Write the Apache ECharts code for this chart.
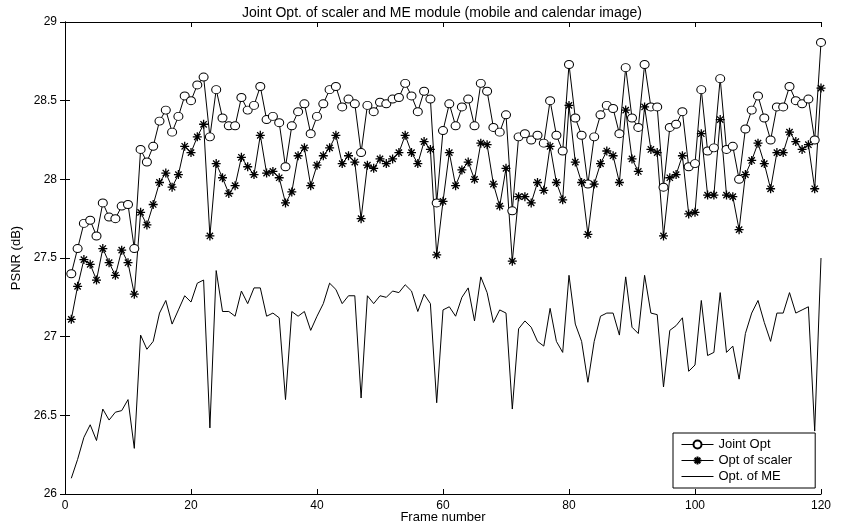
<!DOCTYPE html>
<html>
<head>
<meta charset="utf-8">
<script src="https://cdn.jsdelivr.net/npm/echarts@6/dist/echarts.min.js"></script>
<style>
  html, body { margin: 0; padding: 0; background: #fff; }
  #chart { width: 850px; height: 523px; }
</style>
</head>
<body>
<div id="chart"></div>
<script>
// PSNR per frame (dB), frames 1..120
const jointOpt = [
  27.40, 27.56, 27.72, 27.74, 27.64, 27.85, 27.76, 27.75, 27.83, 27.84,
  27.56, 28.19, 28.11, 28.21, 28.37, 28.44, 28.30, 28.40, 28.53, 28.50,
  28.60, 28.65, 28.27, 28.57, 28.39, 28.34, 28.34, 28.52, 28.44, 28.47,
  28.59, 28.38, 28.40, 28.36, 28.08, 28.34, 28.43, 28.48, 28.29, 28.40,
  28.48, 28.57, 28.59, 28.46, 28.51, 28.48, 28.17, 28.47, 28.43, 28.49,
  28.48, 28.51, 28.52, 28.61, 28.53, 28.43, 28.56, 28.51, 27.85, 28.31,
  28.48, 28.34, 28.46, 28.51, 28.34, 28.61, 28.56, 28.33, 28.30, 28.41,
  27.80, 28.27, 28.29, 28.25, 28.28, 28.23, 28.50, 28.28, 28.18, 28.73,
  28.39, 28.28, 27.97, 28.27, 28.41, 28.47, 28.45, 28.29, 28.71, 28.39,
  28.33, 28.73, 28.46, 28.46, 27.95, 28.33, 28.35, 28.43, 28.08, 28.10,
  28.57, 28.18, 28.20, 28.64, 28.19, 28.21, 28.00, 28.32, 28.44, 28.53,
  28.39, 28.25, 28.46, 28.46, 28.59, 28.50, 28.48, 28.51, 28.25, 28.87
];
const scalerOpt = [
  27.11, 27.32, 27.49, 27.46, 27.36, 27.56, 27.47, 27.39, 27.55, 27.47,
  27.27, 27.79, 27.71, 27.84, 27.98, 28.04, 27.95, 28.03, 28.21, 28.17,
  28.27, 28.35, 27.64, 28.10, 28.01, 27.91, 27.96, 28.14, 28.08, 28.03,
  28.28, 28.04, 28.05, 28.01, 27.85, 27.92, 28.15, 28.20, 27.96, 28.09,
  28.15, 28.20, 28.28, 28.10, 28.15, 28.11, 27.75, 28.09, 28.07, 28.13,
  28.10, 28.13, 28.17, 28.28, 28.17, 28.10, 28.24, 28.19, 27.52, 27.86,
  28.17, 27.96, 28.06, 28.11, 28.00, 28.23, 28.22, 27.97, 27.83, 28.07,
  27.48, 27.89, 27.89, 27.85, 27.98, 27.93, 28.21, 27.98, 27.87, 28.47,
  28.11, 27.98, 27.65, 27.97, 28.10, 28.18, 28.15, 27.98, 28.44, 28.13,
  28.05, 28.46, 28.19, 28.17, 27.64, 28.01, 28.03, 28.15, 27.78, 27.79,
  28.29, 27.90, 27.90, 28.38, 27.90, 27.89, 27.68, 28.03, 28.12, 28.23,
  28.10, 27.94, 28.17, 28.17, 28.30, 28.24, 28.19, 28.22, 27.94, 28.58
];
const meOpt = [
  26.10, 26.22, 26.36, 26.44, 26.34, 26.54, 26.47, 26.52, 26.53, 26.60,
  26.29, 27.01, 26.92, 26.97, 27.15, 27.23, 27.08, 27.17, 27.26, 27.22,
  27.34, 27.36, 26.42, 27.42, 27.16, 27.16, 27.13, 27.29, 27.21, 27.31,
  27.31, 27.13, 27.15, 27.12, 26.60, 27.16, 27.13, 27.16, 27.04, 27.13,
  27.21, 27.34, 27.30, 27.21, 27.26, 27.26, 26.61, 27.26, 27.21, 27.26,
  27.25, 27.29, 27.28, 27.33, 27.29, 27.16, 27.27, 27.21, 26.58, 27.17,
  27.19, 27.13, 27.25, 27.31, 27.10, 27.38, 27.28, 27.09, 27.17, 27.15,
  26.54, 27.05, 27.10, 27.06, 26.97, 26.94, 27.18, 26.97, 26.90, 27.39,
  27.08, 26.97, 26.71, 26.97, 27.13, 27.15, 27.15, 27.01, 27.38, 27.06,
  27.02, 27.39, 27.15, 27.14, 26.68, 27.04, 27.07, 27.12, 26.78, 26.82,
  27.23, 26.88, 26.90, 27.28, 26.90, 26.94, 26.73, 27.02, 27.15, 27.23,
  27.09, 26.97, 27.15, 27.15, 27.28, 27.15, 27.17, 27.19, 26.40, 27.50
];
const seriesNames = ['Joint Opt', 'Opt of scaler', 'Opt. of ME'];
const titleText = 'Joint Opt. of scaler and ME module (mobile and calendar image)';
const xName = 'Frame number';
const yName = 'PSNR (dB)';

const pairs = arr => arr.map((v, i) => [i + 1, v]);

const FONT = '"Liberation Sans", Arial, sans-serif';
// eight-armed asterisk marker, stroked
const starPath = 'path://M5,0L5,10M0,5L10,5M1.5,1.5L8.5,8.5M1.5,8.5L8.5,1.5';
// plain line swatch for the legend entry without markers
const lineIcon = 'path://M0,0L32,0L32,1L0,1Z';

const chart = echarts.init(document.getElementById('chart'), null, { renderer: 'canvas' });

const baseAxisLine = { show: true, lineStyle: { color: '#000', width: 1 } };
const innerTick = { show: true, inside: true, length: 5, lineStyle: { color: '#000', width: 1 } };

chart.setOption({
  animation: false,
  backgroundColor: '#fff',
  title: {
    text: titleText,
    left: 437,
    top: 1,
    textAlign: 'center',
    textStyle: { fontFamily: FONT, fontSize: 14, fontWeight: 'normal', color: '#000' }
  },
  grid: { left: 65, right: 29, top: 22, bottom: 29, outerBoundsMode: 'none', containLabel: false },
  legend: {
    orient: 'vertical',
    left: 673,
    top: 433,
    data: [
      { name: seriesNames[0] },
      { name: seriesNames[1] },
      { name: seriesNames[2], icon: lineIcon }
    ],
    backgroundColor: '#fff',
    borderColor: '#000',
    borderWidth: 1,
    borderRadius: 0,
    padding: [5, 23, 5, 8],
    itemGap: 3,
    itemWidth: 32,
    itemHeight: 10,
    lineStyle: { width: 1 },
    textStyle: { fontFamily: FONT, fontSize: 13, color: '#000' }
  },
  xAxis: [
    {
      type: 'value', min: 0, max: 120, interval: 20,
      name: xName, nameLocation: 'middle', nameGap: 17, nameMoveOverlap: false,
      nameTextStyle: { fontFamily: FONT, fontSize: 13, color: '#000', verticalAlign: 'top' },
      axisLine: baseAxisLine, axisTick: innerTick,
      axisLabel: { fontFamily: FONT, fontSize: 12, color: '#000', margin: 6 },
      splitLine: { show: false }
    },
    {
      type: 'value', min: 0, max: 120, interval: 20, position: 'top',
      axisLine: baseAxisLine, axisTick: innerTick,
      axisLabel: { show: false }, splitLine: { show: false }
    }
  ],
  yAxis: [
    {
      type: 'value', min: 26, max: 29, interval: 0.5,
      name: yName, nameLocation: 'middle', nameGap: 40, nameRotate: 90,
      nameTextStyle: { fontFamily: FONT, fontSize: 13, color: '#000' },
      axisLine: baseAxisLine, axisTick: innerTick,
      axisLabel: { fontFamily: FONT, fontSize: 12, color: '#000', margin: 8 },
      splitLine: { show: false }
    },
    {
      type: 'value', min: 26, max: 29, interval: 0.5, position: 'right',
      axisLine: baseAxisLine, axisTick: innerTick,
      axisLabel: { show: false }, splitLine: { show: false }
    }
  ],
  series: [
    {
      name: seriesNames[0], type: 'line', data: pairs(jointOpt),
      symbol: 'circle', symbolSize: [9, 8], showAllSymbol: true,
      lineStyle: { color: '#000', width: 1 },
      itemStyle: { color: '#fff', borderColor: '#000', borderWidth: 1 },
      z: 3
    },
    {
      name: seriesNames[1], type: 'line', data: pairs(scalerOpt),
      symbol: starPath, symbolSize: 9, showAllSymbol: true,
      lineStyle: { color: '#000', width: 1 },
      itemStyle: { color: 'transparent', borderColor: '#000', borderWidth: 1.3 },
      z: 3
    },
    {
      name: seriesNames[2], type: 'line', data: pairs(meOpt),
      symbol: 'none', showSymbol: false,
      lineStyle: { color: '#000', width: 1 },
      itemStyle: { color: '#000' },
      z: 2
    }
  ]
});
</script>
</body>
</html>
